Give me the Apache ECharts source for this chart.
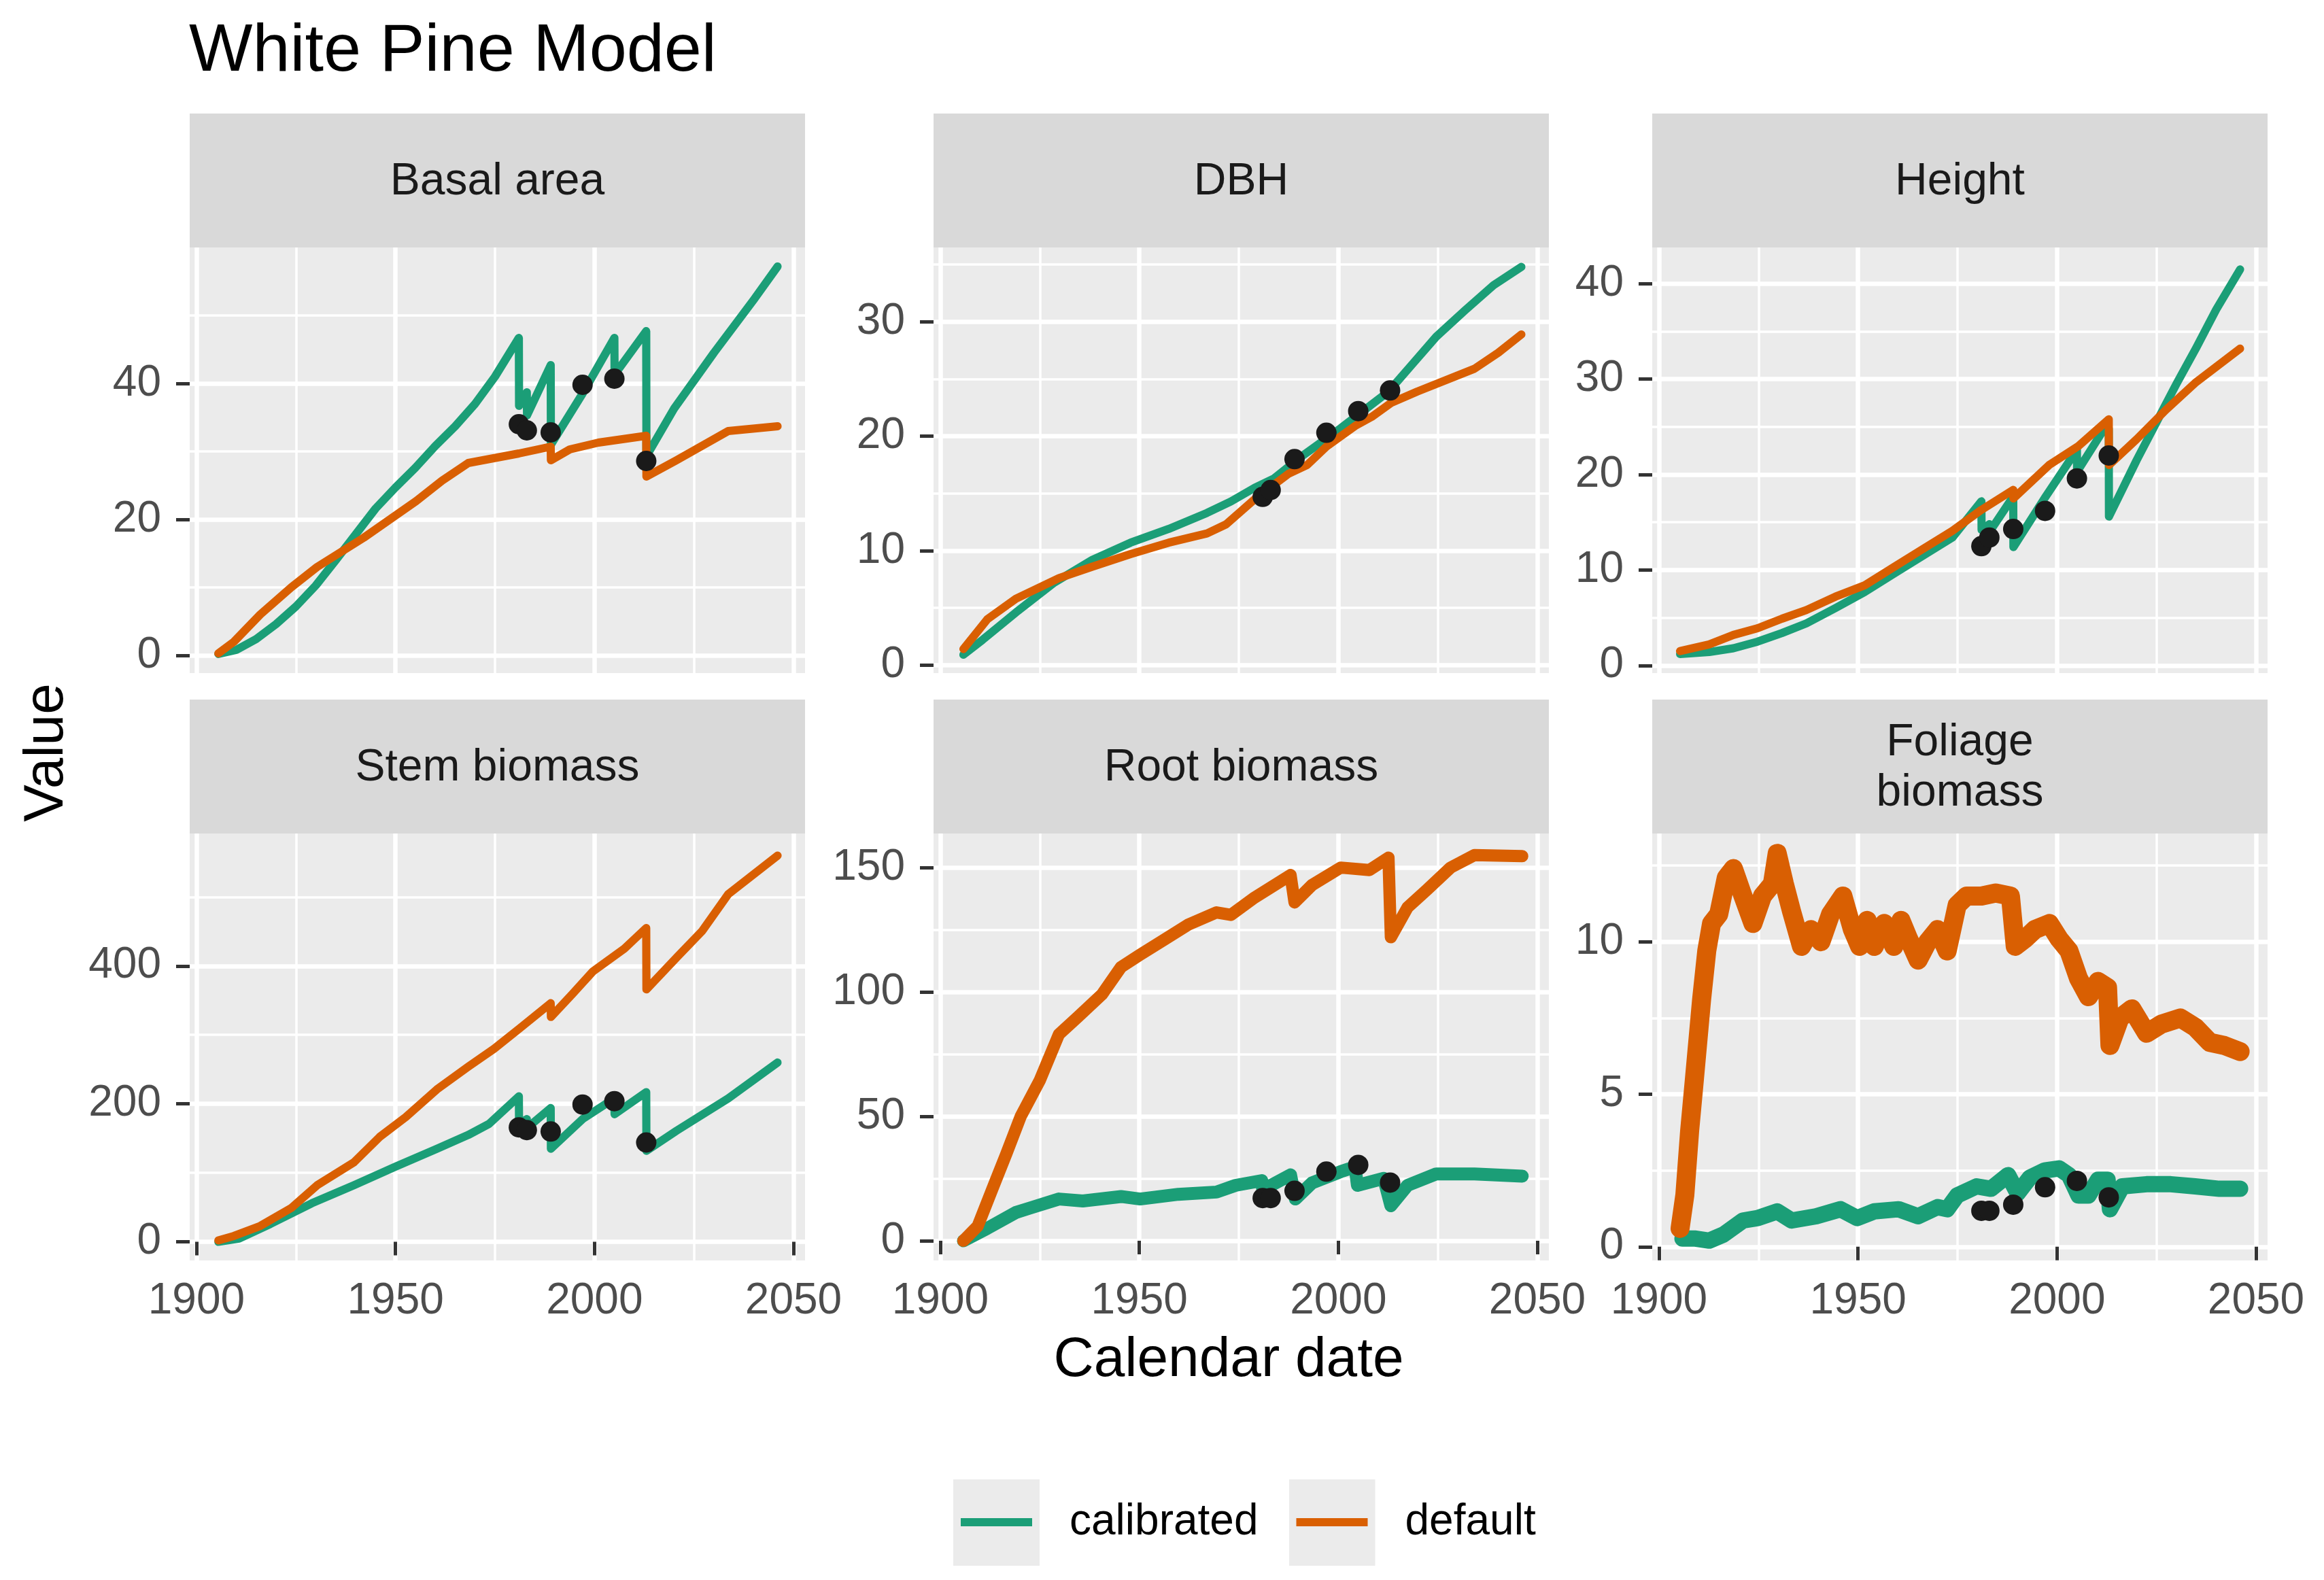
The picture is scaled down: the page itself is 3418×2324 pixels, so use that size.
<!DOCTYPE html>
<html>
<head>
	<meta charset="utf-8" />
	<title>White Pine Model</title>
	<style>
		* { padding: 0; margin: 0; }
		body { background: #fff; }
		#main { width: 3418px; height: 2324px; }
	</style>
</head>
<body>
	<div id="main"></div>
	<script src="https://cdn.jsdelivr.net/npm/echarts@6/dist/echarts.min.js"></script>
	<script type="text/javascript">
	// ---- data ----
	var panelNames = ['Basal area', 'DBH', 'Height', 'Stem biomass', 'Root biomass', 'Foliage\nbiomass'];
	var seriesNames = ['calibrated', 'default'];

	var xTicks = [1900, 1950, 2000, 2050];
	var xMinorTicks = [1925, 1975, 2025];

	var yTicks = [[0, 20, 40], [0, 10, 20, 30], [0, 10, 20, 30, 40], [0, 200, 400], [0, 50, 100, 150], [0, 5, 10]];
	var yMinorTicks = [[10, 30, 50], [5, 15, 25, 35], [5, 15, 25, 35], [100, 300, 500], [25, 75, 125], [2.5, 7.5, 12.5]];
	var yMin = [-2.6, -0.7, -0.8, -27, -7.9, -0.45];
	var yMax = [60, 36.5, 43.8, 592, 163.7, 13.55];

	var obsYears = [1981, 1983, 1989, 1997, 2005, 2013];
	var basalObs = [34.0, 33.1, 32.8, 39.8, 40.7, 28.6];
	var dbhObs = [14.7, 15.3, 18.0, 20.3, 22.2, 24.0];
	var heightObs = [12.5, 13.4, 14.3, 16.2, 19.6, 22.0];
	var stemObs = [166, 162, 160, 199, 204, 144];
	var rootObs = [17.2, 17.2, 20.1, 27.8, 30.5, 23.4];
	var foliageObs = [1.18, 1.18, 1.38, 1.95, 2.16, 1.62];

	var basalCalibrated = [[1905.5, 0.2], [1910, 0.8], [1915, 2.4], [1920, 4.6], [1925, 7.2], [1930, 10.3], [1935, 14.0], [1940, 17.8], [1945, 21.6], [1950, 24.7], [1955, 27.6], [1960, 30.8], [1965, 33.7], [1970, 37.0], [1975, 41.0], [1981, 46.7], [1981.05, 36.7], [1983, 38.7], [1983.05, 35.3], [1989, 42.7], [1989.05, 31.0], [1997, 38.5], [2005, 46.7], [2005.05, 41.3], [2013, 47.7], [2013.05, 29.3], [2020, 36.3], [2030, 44.5], [2040, 52.3], [2046, 57.2]];
	var basalDefault = [[1905.5, 0.3], [1909.4, 2], [1916, 6], [1923.8, 10], [1930.3, 13], [1942, 17.3], [1948.6, 20], [1955.2, 22.7], [1961.7, 25.7], [1968.3, 28.3], [1981, 29.7], [1989, 30.7], [1989.05, 28.7], [1993.8, 30.3], [2001, 31.3], [2013, 32.3], [2013.05, 26.3], [2020.6, 28.7], [2033.6, 33], [2046, 33.7]];

	var dbhCalibrated = [[1905.8, 0.9], [1910.6, 2.2], [1919, 4.6], [1928.6, 7.2], [1938.2, 9.2], [1947.8, 10.7], [1957.4, 11.9], [1967, 13.3], [1973, 14.3], [1979, 15.5], [1983.8, 16.3], [1991, 18.3], [2000.6, 20.7], [2012.6, 23.9], [2018.6, 26.3], [2024.6, 28.7], [2031.8, 31], [2039, 33.2], [2046, 34.8]];
	var dbhDefault = [[1905.8, 1.4], [1911.8, 4.0], [1919, 5.8], [1929.8, 7.6], [1938.2, 8.6], [1947.8, 9.7], [1957.4, 10.7], [1967, 11.5], [1971.8, 12.3], [1979, 14.5], [1987.4, 16.7], [1992.2, 17.5], [1997, 19.1], [2004.2, 20.9], [2008.4, 21.7], [2013.2, 22.9], [2019.8, 23.9], [2034.2, 25.9], [2040.2, 27.3], [2046, 28.9]];

	var heightCalibrated = [[1905.3, 1.2], [1912.6, 1.4], [1918.7, 1.8], [1924.8, 2.5], [1930.9, 3.4], [1937, 4.4], [1944.3, 6.0], [1951.7, 7.7], [1959, 9.6], [1966.3, 11.5], [1973.7, 13.4], [1981, 17.2], [1981.05, 14.2], [1983, 14.8], [1983.05, 14.0], [1989, 17.7], [1989.05, 12.4], [1997, 17.6], [2005, 22.6], [2005.05, 20.3], [2012, 24.9], [2013, 24.8], [2013.05, 15.6], [2020, 21.5], [2025, 25.5], [2030, 29.5], [2035, 33.3], [2040, 37.3], [2046, 41.5]];
	var heightDefault = [[1905.3, 1.5], [1912.6, 2.2], [1918.7, 3.2], [1924.8, 3.9], [1930.9, 4.9], [1937, 5.8], [1944.3, 7.2], [1951.7, 8.4], [1959, 10.3], [1966.3, 12.2], [1973.7, 14.1], [1981, 16.3], [1989, 18.4], [1989.05, 17.5], [1998, 21], [2005.4, 23], [2013, 25.8], [2013.05, 21.0], [2020, 23.7], [2027.4, 26.8], [2034.7, 29.6], [2046, 33.2]];

	var stemCalibrated = [[1905.5, 0], [1910.7, 4.6], [1918.6, 26], [1929, 56], [1939.5, 82], [1950, 109], [1960.4, 135], [1968.3, 155], [1973.5, 171], [1981, 211], [1981.05, 171], [1983, 178], [1983.05, 165], [1989, 194], [1989.05, 135], [1997, 178], [2005, 208], [2005.05, 185], [2013, 217], [2013.05, 132], [2020.6, 161], [2033.6, 208], [2046, 260]];
	var stemDefault = [[1905.5, 2], [1909.4, 8.6], [1916, 23], [1923.8, 49], [1930.3, 82], [1939.5, 115], [1946, 152], [1952.6, 181], [1960.4, 221], [1968.3, 254], [1974.8, 280], [1981.3, 310], [1989, 346], [1989.05, 326], [1994.4, 359], [1999.6, 392], [2007.5, 425], [2013, 455], [2013.05, 366], [2020.6, 412], [2027.1, 451], [2033.6, 504], [2046, 560]];

	var rootCalibrated = [[1905.8, 0], [1911.8, 5], [1919, 11.4], [1922.6, 13.2], [1929.8, 16.8], [1935.8, 16], [1945.4, 17.8], [1950.2, 16.8], [1959.8, 18.7], [1969.4, 19.6], [1974.2, 22.3], [1980.8, 24.2], [1981, 20.5], [1988, 26.5], [1989.2, 16.8], [1993.4, 23.3], [2000.6, 27.8], [2004.2, 29.7], [2004.8, 22.3], [2011.4, 25.1], [2013.2, 14.1], [2017.4, 22.3], [2024.6, 26.9], [2034.2, 26.9], [2046.2, 26]];
	var rootDefault = [[1905.8, 0], [1909.4, 5.9], [1913, 20.5], [1916.6, 35], [1920.2, 50], [1925, 64.5], [1929.8, 83], [1934.6, 90], [1940.6, 99], [1945.4, 110], [1950.2, 115], [1956.2, 121], [1962.2, 127], [1969.4, 132], [1973, 131], [1979, 138], [1988, 147], [1989, 136], [1993.4, 143], [2000.6, 150], [2007.8, 149], [2012.6, 154], [2013.2, 122], [2017.4, 134], [2022.2, 141], [2028.2, 150], [2034.2, 155], [2046.2, 154.6]];

	var foliageCalibrated = [[1905.9, 0.27], [1908.9, 0.27], [1912.6, 0.2], [1916.2, 0.4], [1921.1, 0.86], [1924.8, 0.94], [1929.7, 1.16], [1933.3, 0.86], [1939.5, 1.0], [1945.6, 1.23], [1949.8, 0.94], [1954.1, 1.16], [1960.2, 1.23], [1965.1, 1.0], [1970, 1.3], [1972.4, 1.23], [1974.9, 1.68], [1979.8, 1.98], [1983.4, 1.9], [1987.7, 2.35], [1990.1, 1.75], [1993.2, 2.27], [1996.9, 2.5], [2000.5, 2.57], [2003, 2.35], [2005.4, 1.68], [2007.9, 1.68], [2010.3, 2.2], [2012.7, 2.2], [2013.3, 1.23], [2016.4, 1.98], [2022.5, 2.05], [2028.6, 2.05], [2034.7, 1.98], [2040.8, 1.9], [2046, 1.9]];
	var foliageDefault = [[1905.3, 0.6], [1906.5, 1.7], [1907.7, 3.8], [1908.9, 5.5], [1910.7, 8.1], [1912, 9.7], [1913.2, 10.6], [1915, 10.9], [1916.9, 12.1], [1918.7, 12.4], [1921.1, 11.5], [1923.6, 10.6], [1926, 11.5], [1928.5, 11.9], [1929.7, 12.9], [1931.5, 11.9], [1933.3, 11.0], [1935.8, 9.85], [1938.2, 10.4], [1940.7, 10.0], [1943.1, 10.9], [1946.2, 11.5], [1948.6, 10.4], [1950.4, 9.85], [1952.3, 10.7], [1954.1, 9.85], [1956.6, 10.6], [1959, 9.85], [1960.8, 10.7], [1962.7, 10.1], [1965.1, 9.4], [1967.5, 10.0], [1970, 10.4], [1972.4, 9.7], [1974.9, 11.2], [1977.3, 11.5], [1981, 11.5], [1984.6, 11.6], [1988.3, 11.5], [1989.5, 9.85], [1992, 10.1], [1994.4, 10.4], [1998.1, 10.6], [2000.5, 10.1], [2003, 9.7], [2005.4, 8.8], [2007.9, 8.2], [2010.3, 8.7], [2012.7, 8.5], [2013.3, 6.6], [2015.8, 7.5], [2018.8, 7.8], [2022.5, 7.0], [2026.2, 7.3], [2031, 7.5], [2034.7, 7.2], [2038.4, 6.7], [2042, 6.6], [2046, 6.4]];

	var calibratedLines = [basalCalibrated, dbhCalibrated, heightCalibrated, stemCalibrated, rootCalibrated, foliageCalibrated];
	var defaultLines = [basalDefault, dbhDefault, heightDefault, stemDefault, rootDefault, foliageDefault];
	var observed = [basalObs, dbhObs, heightObs, stemObs, rootObs, foliageObs];

	// ---- layout / style ----
	var FONT = "'Liberation Sans', Arial, sans-serif";
	var colLeft = [279, 1373, 2430];
	var rowTop = [364, 1226];
	var panelW = 905;
	var panelH = [626, 628];
	var stripH = 197;
	var lineColors = ['#1B9E77', '#D95F02'];
	// [calibrated, default]; the noisy daily output reads as a thick band
	var lineWidths = [[12, 12], [12, 12], [12, 12], [12, 12], [19, 18], [24, 28]];
	var xMin = 1898.3, xMax = 2052.9;

	var grids = [], xAxes = [], yAxes = [], series = [], graphics = [];
	var n = panelNames.length;

	for (var i = 0; i < n; i++) {
		var c = i % 3, r = Math.floor(i / 3);
		grids.push({
			left: colLeft[c], top: rowTop[r], width: panelW, height: panelH[r],
			show: true, backgroundColor: '#EBEBEB', borderWidth: 0, containLabel: false
		});
		// strip
		graphics.push({
			type: 'rect',
			shape: { x: colLeft[c], y: rowTop[r] - stripH, width: panelW, height: stripH },
			style: { fill: '#D9D9D9' }
		});
		graphics.push({
			type: 'text',
			x: colLeft[c] + panelW / 2, y: rowTop[r] - stripH / 2 + 2,
			style: {
				text: panelNames[i], fill: '#1A1A1A', fontSize: 66, fontFamily: FONT,
				align: 'center', verticalAlign: 'middle', lineHeight: 74
			}
		});
	}

	function yearLabel(v) { return String(Math.round(v)); }

	// major axes 0..5
	for (var i = 0; i < n; i++) {
		var bottomRow = i >= 3;
		xAxes.push({
			type: 'value', gridIndex: i, min: xMin, max: xMax, position: 'bottom',
			axisLine: { show: false },
			axisTick: { show: bottomRow, customValues: xTicks, length: 20, lineStyle: { color: '#333333', width: 5 } },
			axisLabel: { show: bottomRow, customValues: xTicks, margin: 28, fontSize: 64, color: '#4D4D4D', fontFamily: FONT, formatter: yearLabel },
			splitLine: { show: true, lineStyle: { color: '#FFFFFF', width: 6.5 } }
		});
		yAxes.push({
			type: 'value', gridIndex: i, min: yMin[i], max: yMax[i], position: 'left',
			axisLine: { show: false },
			axisTick: { show: true, customValues: yTicks[i], length: 20, lineStyle: { color: '#333333', width: 5 } },
			axisLabel: { show: true, customValues: yTicks[i], margin: 42, fontSize: 64, color: '#4D4D4D', fontFamily: FONT },
			splitLine: { show: true, lineStyle: { color: '#FFFFFF', width: 6.5 } }
		});
	}
	// minor grid axes 6..11
	for (var i = 0; i < n; i++) {
		xAxes.push({
			type: 'value', gridIndex: i, min: xMin, max: xMax, position: 'top',
			axisLine: { show: false },
			axisTick: { show: false, customValues: xMinorTicks },
			axisLabel: { show: false },
			splitLine: { show: true, lineStyle: { color: '#FFFFFF', width: 3.5 } }
		});
		yAxes.push({
			type: 'value', gridIndex: i, min: yMin[i], max: yMax[i], position: 'right',
			axisLine: { show: false },
			axisTick: { show: false, customValues: yMinorTicks[i] },
			axisLabel: { show: false },
			splitLine: { show: true, lineStyle: { color: '#FFFFFF', width: 3.5 } }
		});
	}

	for (var i = 0; i < n; i++) {
		[calibratedLines[i], defaultLines[i]].forEach(function (d, k) {
			series.push({
				type: 'line', name: seriesNames[k], xAxisIndex: i, yAxisIndex: i,
				data: d, symbol: 'none', showSymbol: false,
				lineStyle: { color: lineColors[k], width: lineWidths[i][k], join: 'round', cap: 'round' },
				itemStyle: { color: lineColors[k] },
				z: 2 + k
			});
		});
		var obs = observed[i];
		series.push({
			type: 'scatter', name: 'observed', xAxisIndex: i, yAxisIndex: i,
			data: obsYears.map(function (y, k) { return [y, obs[k]]; }),
			symbolSize: 30, itemStyle: { color: '#1A1A1A', opacity: 1 }, z: 5
		});
	}

	// axis titles
	graphics.push({
		type: 'text', x: 69, y: 1107, rotation: Math.PI / 2,
		style: { text: 'Value', fill: '#000', fontSize: 82, fontFamily: FONT, align: 'center', verticalAlign: 'middle' }
	});
	graphics.push({
		type: 'text', x: 1807, y: 2001,
		style: { text: 'Calendar date', fill: '#000', fontSize: 82, fontFamily: FONT, align: 'center', verticalAlign: 'middle' }
	});

	// legend key: grey square with the coloured line, plus some room before the text
	function keyIcon(color) {
		var svg = '<svg xmlns="http://www.w3.org/2000/svg" width="166" height="127" viewBox="0 0 166 127">' +
			'<rect x="0" y="0" width="127" height="127" fill="#EBEBEB"/>' +
			'<rect x="11" y="57" width="105" height="12" fill="' + color + '"/></svg>';
		return 'image://data:image/svg+xml;charset=utf-8,' + encodeURIComponent(svg);
	}

	var myChart = echarts.init(document.getElementById('main'));
	var option = {
		animation: false,
		backgroundColor: '#FFFFFF',
		title: {
			text: 'White Pine Model', left: 273, top: 22,
			textStyle: { fontSize: 99, fontWeight: 'normal', color: '#000', fontFamily: FONT }
		},
		legend: {
			left: 1397, top: 2171, orient: 'horizontal',
			itemWidth: 166, itemHeight: 127, itemGap: 45,
			selectedMode: false,
			textStyle: { fontSize: 64, color: '#000', fontFamily: FONT },
			data: seriesNames.map(function (s, k) { return { name: s, icon: keyIcon(lineColors[k]) }; })
		},
		grid: grids,
		xAxis: xAxes,
		yAxis: yAxes,
		series: series,
		graphic: { elements: graphics }
	};
	myChart.setOption(option);
	</script>
</body>
</html>
